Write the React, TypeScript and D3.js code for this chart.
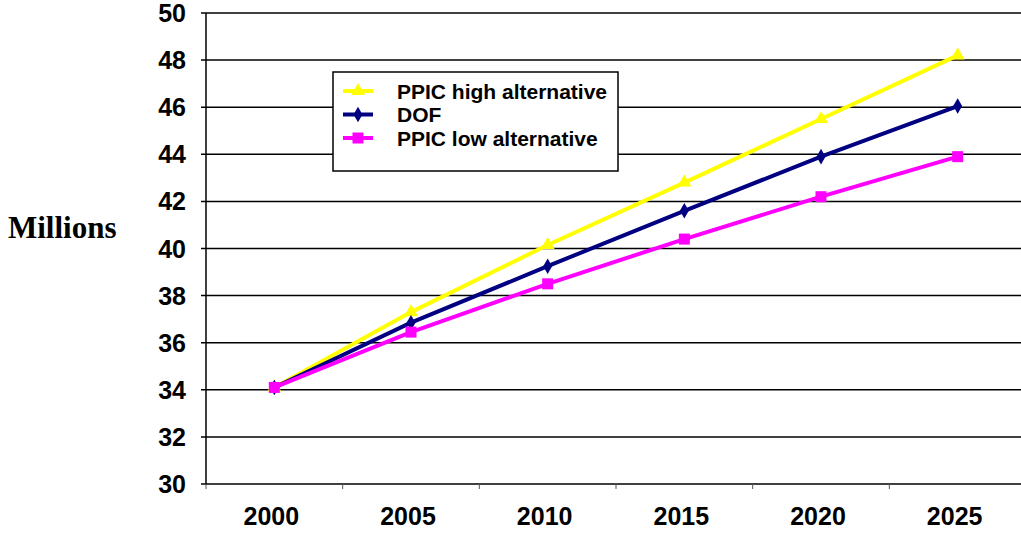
import React from "react";
import * as d3 from "d3";

const years = ["2000", "2005", "2010", "2015", "2020", "2025"];
const ppicHigh = [34.1, 37.3, 40.15, 42.8, 45.5, 48.2];
const dof = [34.1, 36.85, 39.25, 41.6, 43.9, 46.05];
const ppicLow = [34.1, 36.45, 38.5, 40.4, 42.2, 43.9];
const yTicks = [30, 32, 34, 36, 38, 40, 42, 44, 46, 48, 50];

const W = 1021;
const H = 533;
const left = 206;
const right = 1026;
const top = 13;
const bottom = 484;

const x = d3.scaleBand<string>().domain(years).range([left, right]).paddingInner(0).paddingOuter(0);
const y = d3.scaleLinear().domain([30, 50]).range([bottom, top]);
const cx = (d: string) => (x(d) as number) + x.bandwidth() / 2;

const series = [
  { name: "PPIC high alternative", values: ppicHigh, color: "#FFFF00", marker: "triangle" },
  { name: "DOF", values: dof, color: "#000080", marker: "diamond" },
  { name: "PPIC low alternative", values: ppicLow, color: "#FF00FF", marker: "square" },
];

function Marker({ type, color, px, py }: { type: string; color: string; px: number; py: number }) {
  if (type === "triangle") {
    const s = d3.symbol(d3.symbolTriangle, 85)();
    return <path d={s as string} transform={`translate(${px},${py})`} fill={color} />;
  }
  if (type === "diamond") {
    const s = d3.symbol(d3.symbolDiamond, 70)();
    return <path d={s as string} transform={`translate(${px},${py})`} fill={color} />;
  }
  return <rect x={px - 5.5} y={py - 5.5} width={11} height={11} fill={color} />;
}

export default function App() {
  const line = d3
    .line<number>()
    .x((_, i) => cx(years[i]))
    .y((v) => y(v));
  const font = "'Liberation Sans', Arial, sans-serif";
  return (
    <svg
      width={W}
      height={H}
      style={{ position: "absolute", left: 0, top: 0, background: "#fff" }}
    >
      {yTicks.map((t) => (
        <g key={t}>
          <line x1={left - 5} x2={W} y1={y(t)} y2={y(t)} stroke="#000" strokeWidth={1.5} />
          <text
            x={186}
            y={y(t)}
            dy="0.36em"
            textAnchor="end"
            fontFamily={font}
            fontWeight="bold"
            fontSize={25}
          >
            {t}
          </text>
        </g>
      ))}
      <line x1={left} x2={left} y1={top} y2={bottom} stroke="#000" strokeWidth={1.5} />
      {years.map((yr) => (
        <line
          key={"t" + yr}
          x1={x(yr) as number}
          x2={x(yr) as number}
          y1={bottom}
          y2={bottom + 5}
          stroke="#555"
          strokeWidth={1}
        />
      ))}
      {years.map((yr) => (
        <text
          key={"l" + yr}
          x={cx(yr) - 3}
          y={525}
          textAnchor="middle"
          fontFamily={font}
          fontWeight="bold"
          fontSize={25}
        >
          {yr}
        </text>
      ))}
      <text x={8} y={238} fontFamily="'Liberation Serif', 'Times New Roman', serif" fontWeight="bold" fontSize={31}>
        Millions
      </text>
      {series.map((s) => (
        <g key={s.name}>
          <path d={line(s.values) as string} fill="none" stroke={s.color} strokeWidth={4} />
          {s.values.map((v, i) => (
            <Marker key={i} type={s.marker} color={s.color} px={cx(years[i])} py={y(v)} />
          ))}
        </g>
      ))}
      <rect x={333} y={72} width={285} height={99} fill="#fff" stroke="#000" strokeWidth={1.5} />
      {series.map((s, i) => {
        const ly = 91 + i * 23.5;
        return (
          <g key={"lg" + s.name}>
            <line x1={343} x2={373} y1={ly} y2={ly} stroke={s.color} strokeWidth={4} />
            <Marker type={s.marker} color={s.color} px={358} py={ly} />
            <text
              x={397}
              y={ly}
              dy="0.36em"
              fontFamily={font}
              fontWeight="bold"
              fontSize={21}
            >
              {s.name}
            </text>
          </g>
        );
      })}
    </svg>
  );
}
